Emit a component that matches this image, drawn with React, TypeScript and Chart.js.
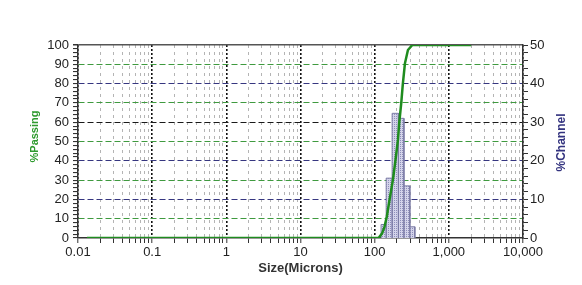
import React, { useEffect, useRef } from 'react';
import { Chart, registerables } from 'chart.js';

Chart.register(...registerables);

// ---- data ----
const curveSizes = [0.0132, 113, 126, 135.5, 145.7, 158.5, 176, 191, 206, 214, 228, 240, 256, 281, 322, 2000];
const curvePassing = [0, 0, 2.4, 5.8, 11, 19.7, 30, 40.4, 50.8, 59.4, 69.8, 80, 90.5, 97.4, 100, 100];

const channelEdges = [122, 143, 172, 209, 248, 298, 348];
const channelPercent = [3.5, 15.5, 32.3, 31, 13.5, 2.9];

const xMajorTicks = [0.01, 0.1, 1, 10, 100, 1000, 10000];
const xTickLabels = ['0.01', '0.1', '1', '10', '100', '1,000', '10,000'];
const xMinorMultipliers = [2, 3, 4, 5, 6, 7, 8, 9];

const yLeftLabels = [0, 10, 20, 30, 40, 50, 60, 70, 80, 90, 100];
const yRightLabels = [0, 10, 20, 30, 40, 50];

const FONT = '"Liberation Sans", Arial, Helvetica, sans-serif';
const GREEN = '#1f8c1f';
const GRID_GREEN = '#3f9a3f';
const GRID_NAVY = '#363680';
const AXIS = '#333333';

function makePattern(): CanvasPattern | string {
  const c = document.createElement('canvas');
  c.width = 4;
  c.height = 4;
  const g = c.getContext('2d');
  if (!g) return '#c8c8e0';
  g.fillStyle = '#d4d4ea';
  g.fillRect(0, 0, 4, 4);
  g.fillStyle = '#8e8eba';
  g.fillRect(0, 0, 1, 1);
  g.fillRect(2, 2, 1, 1);
  g.fillRect(2, 0, 1, 1);
  g.fillRect(0, 2, 1, 1);
  const p = g.createPattern(c, 'repeat');
  return p || '#c8c8e0';
}

const sideTitles = {
  id: 'sideTitles',
  afterDraw(chart: any) {
    const { ctx, chartArea } = chart;
    const draw = (text: string, x: number, y: number, color: string, size: number) => {
      ctx.save();
      ctx.translate(x, y);
      ctx.rotate(-Math.PI / 2);
      ctx.font = `bold ${size}px ${FONT}`;
      ctx.fillStyle = color;
      ctx.textAlign = 'center';
      ctx.textBaseline = 'middle';
      ctx.fillText(text, 0, 0);
      ctx.restore();
    };
    const cy = (chartArea.top + chartArea.bottom) / 2;
    draw('%Passing', chartArea.left - 43, cy - 5, '#2e9a2e', 11);
    draw('%Channel', chartArea.right + 39, cy + 1, '#33337f', 12);
  },
};

export default function App() {
  const ref = useRef<HTMLCanvasElement | null>(null);

  useEffect(() => {
    if (!ref.current) return;
    const majorSet = new Set(xMajorTicks);
    const xTickValues: number[] = [];
    xMajorTicks.forEach((m, i) => {
      xTickValues.push(m);
      if (i < xMajorTicks.length - 1) xMinorMultipliers.forEach((k) => xTickValues.push(m * k));
    });

    const curveData = curveSizes.map((s, i) => ({ x: s, y: curvePassing[i] }));
    const barData: { x: number; y: number }[] = [];
    channelPercent.forEach((v, i) => {
      barData.push({ x: channelEdges[i], y: 0 });
      barData.push({ x: channelEdges[i], y: v });
      barData.push({ x: channelEdges[i + 1], y: v });
      barData.push({ x: channelEdges[i + 1], y: 0 });
    });

    const chart = new Chart(ref.current, {
      type: 'line',
      data: {
        datasets: [
          {
            data: curveData,
            borderColor: GREEN,
            borderWidth: 2.5,
            pointRadius: 0,
            tension: 0,
            fill: false,
            yAxisID: 'y',
          },
          {
            data: barData,
            borderColor: '#7c7ca6',
            borderWidth: 1,
            backgroundColor: makePattern() as any,
            pointRadius: 0,
            tension: 0,
            fill: 'origin',
            yAxisID: 'y2',
          },
        ],
      },
      options: {
        animation: false,
        responsive: true,
        maintainAspectRatio: false,
        layout: { padding: { top: 45, bottom: 9, left: 0, right: 0 } },
        plugins: { legend: { display: false }, tooltip: { enabled: false } },
        font: { family: FONT },
        scales: {
          x: {
            type: 'logarithmic',
            min: 0.01,
            max: 10000,
            afterBuildTicks: (scale: any) => {
              scale.ticks = xTickValues.map((v) => ({ value: v, major: majorSet.has(v) }));
            },
            afterFit: (s: any) => {
              s.height = 38;
            },
            grid: {
              color: (c: any) => (c.tick && majorSet.has(c.tick.value) ? '#111111' : '#b4b4b4'),
              lineWidth: (c: any) => (c.tick && majorSet.has(c.tick.value) ? 1.6 : 1),
              tickColor: AXIS,
              tickLength: 5,
              tickWidth: 1,
            },
            border: {
              color: AXIS,
              width: 1.5,
              dash: (c: any) => (c.tick ? (majorSet.has(c.tick.value) ? [2, 2] : [3, 4]) : []),
            },
            ticks: {
              autoSkip: false,
              maxRotation: 0,
              padding: 2,
              color: '#222222',
              font: { size: 13, family: FONT },
              callback: (v: any) => {
                const idx = xMajorTicks.indexOf(Number(v));
                return idx >= 0 ? xTickLabels[idx] : '';
              },
            },
            title: {
              display: true,
              text: 'Size(Microns)',
              color: '#333333',
              font: { size: 13, weight: 'bold', family: FONT },
              padding: 0,
            },
          } as any,
          y: {
            position: 'left',
            min: 0,
            max: 100,
            afterFit: (s: any) => {
              s.width = 78;
            },
            ticks: {
              stepSize: 2,
              autoSkip: false,
              padding: 4,
              color: '#222222',
              font: { size: 13, family: FONT },
              callback: (v: any) => (yLeftLabels.includes(Number(v)) ? String(v) : ''),
            },
            grid: {
              color: (c: any) => {
                const v = c.tick ? c.tick.value : -1;
                if (v === 100) return '#555555';
                if (v % 10 !== 0 || v === 0) return 'rgba(0,0,0,0)';
                if (v % 20 === 10) return GRID_GREEN;
                if (v === 60) return '#1a1a1a';
                return GRID_NAVY;
              },
              lineWidth: (c: any) => (c.tick && c.tick.value === 100 ? 1.5 : 1.1),
              tickColor: AXIS,
              tickLength: 5,
            },
            border: {
              color: AXIS,
              width: 1.5,
              dash: (c: any) => (c.tick ? (c.tick.value === 100 ? [] : [6, 3]) : []),
            },
          } as any,
          y2: {
            position: 'right',
            min: 0,
            max: 50,
            afterFit: (s: any) => {
              s.width = 59;
            },
            ticks: {
              stepSize: 2,
              autoSkip: false,
              padding: 2,
              color: '#222222',
              font: { size: 13, family: FONT },
              callback: (v: any) => (yRightLabels.includes(Number(v)) ? String(v) : ''),
            },
            grid: {
              drawOnChartArea: false,
              tickColor: AXIS,
              tickLength: 5,
            },
            border: { color: AXIS, width: 1.5 },
          } as any,
        },
      },
      plugins: [sideTitles],
    });

    return () => chart.destroy();
  }, []);

  return (
    <div style={{ position: 'fixed', left: 0, top: 0, width: 582, height: 285, background: '#ffffff' }}>
      <canvas ref={ref} />
    </div>
  );
}
